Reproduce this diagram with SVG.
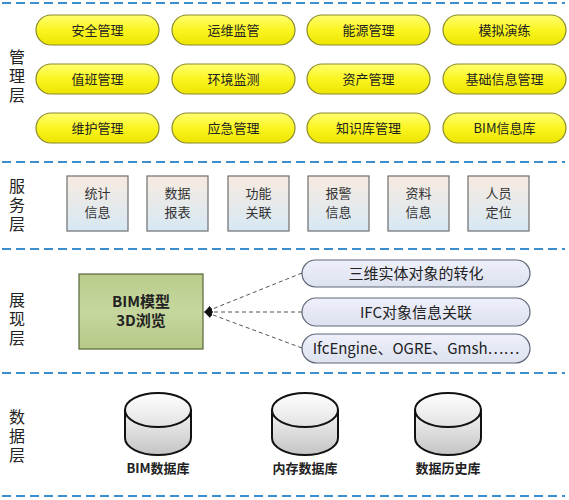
<svg xmlns="http://www.w3.org/2000/svg" width="569" height="500" viewBox="0 0 569 500">
<style>
text{font-family:"Noto Sans CJK SC","Noto Sans",sans-serif;}
.sep{stroke:#3b8fcf;stroke-width:2;stroke-dasharray:9 5;fill:none}
.layer{font-size:16px;fill:#222;text-anchor:middle;writing-mode:vertical-rl;letter-spacing:3px}
.pill rect{fill:url(#gy);stroke:#8a8a2a;stroke-width:1.2}
.pill text{font-size:13px;fill:#222;text-anchor:middle}
.svc rect{fill:url(#gs);stroke:#6e6e6e;stroke-width:1.2}
.svc text{font-size:13px;fill:#333;text-anchor:middle}
.rp rect{fill:url(#gb);stroke:#5e6676;stroke-width:1.2}
.rp text{font-size:15px;fill:#222;text-anchor:middle}
.cyl .body{fill:url(#gc);stroke:#111;stroke-width:2}
.cyl .top{fill:url(#gt);stroke:#111;stroke-width:2}
.cyl text{font-size:13px;font-weight:bold;fill:#222;text-anchor:middle}
.conn{stroke:#555;stroke-width:1;stroke-dasharray:4 3;fill:none}
</style>
<defs>
<linearGradient id="gy" x1="0" y1="0" x2="0" y2="1"><stop offset="0" stop-color="#ffff70"/><stop offset="0.5" stop-color="#fbf520"/><stop offset="1" stop-color="#ece400"/></linearGradient>
<linearGradient id="gs" x1="0" y1="0" x2="0" y2="1"><stop offset="0" stop-color="#f8ebe0"/><stop offset="1" stop-color="#d6e8f4"/></linearGradient>
<linearGradient id="gb" x1="0" y1="0" x2="0" y2="1"><stop offset="0" stop-color="#eef0fa"/><stop offset="1" stop-color="#dde2f0"/></linearGradient>
<linearGradient id="gg" x1="0" y1="0" x2="0" y2="1"><stop offset="0" stop-color="#b9cc8a"/><stop offset="0.5" stop-color="#c6d79e"/><stop offset="1" stop-color="#b6c986"/></linearGradient>
<linearGradient id="gc" x1="0" y1="0" x2="0" y2="1"><stop offset="0" stop-color="#f4f4f4"/><stop offset="1" stop-color="#c4c4c4"/></linearGradient>
<linearGradient id="gt" x1="0" y1="0" x2="0" y2="1"><stop offset="0" stop-color="#ffffff"/><stop offset="1" stop-color="#e2e2e2"/></linearGradient>
<marker id="arr" markerWidth="8" markerHeight="8" refX="7" refY="4" orient="auto" markerUnits="userSpaceOnUse"><path d="M0,0 L8,4 L0,8 Z" fill="#111"/></marker>
</defs>
<rect width="569" height="500" fill="#fff"/>

<g id="separators">
<line class="sep" x1="2" y1="3" x2="565" y2="3"/>
<line class="sep" x1="2" y1="162" x2="565" y2="162"/>
<line class="sep" x1="2" y1="249" x2="565" y2="249"/>
<line class="sep" x1="2" y1="373" x2="565" y2="373"/>
<line class="sep" x1="2" y1="496" x2="565" y2="496"/>
</g>

<g id="layer-labels">
<text class="layer" x="17" y="77">管理层</text>
<text class="layer" x="17" y="206">服务层</text>
<text class="layer" x="17" y="320">展现层</text>
<text class="layer" x="17" y="437">数据层</text>
</g>

<g id="mgmt-1" class="pill"><rect x="36" y="15" width="123" height="30" rx="15"/><text x="97.5" y="35">安全管理</text></g>
<g id="mgmt-2" class="pill"><rect x="172" y="15" width="123" height="30" rx="15"/><text x="233.5" y="35">运维监管</text></g>
<g id="mgmt-3" class="pill"><rect x="307" y="15" width="123" height="30" rx="15"/><text x="368.5" y="35">能源管理</text></g>
<g id="mgmt-4" class="pill"><rect x="443" y="15" width="123" height="30" rx="15"/><text x="504.5" y="35">模拟演练</text></g>
<g id="mgmt-5" class="pill"><rect x="36" y="64" width="123" height="30" rx="15"/><text x="97.5" y="84">值班管理</text></g>
<g id="mgmt-6" class="pill"><rect x="172" y="64" width="123" height="30" rx="15"/><text x="233.5" y="84">环境监测</text></g>
<g id="mgmt-7" class="pill"><rect x="307" y="64" width="123" height="30" rx="15"/><text x="368.5" y="84">资产管理</text></g>
<g id="mgmt-8" class="pill"><rect x="443" y="64" width="123" height="30" rx="15"/><text x="504.5" y="84">基础信息管理</text></g>
<g id="mgmt-9" class="pill"><rect x="36" y="113" width="123" height="30" rx="15"/><text x="97.5" y="133">维护管理</text></g>
<g id="mgmt-10" class="pill"><rect x="172" y="113" width="123" height="30" rx="15"/><text x="233.5" y="133">应急管理</text></g>
<g id="mgmt-11" class="pill"><rect x="307" y="113" width="123" height="30" rx="15"/><text x="368.5" y="133">知识库管理</text></g>
<g id="mgmt-12" class="pill"><rect x="443" y="113" width="123" height="30" rx="15"/><text x="504.5" y="133">BIM信息库</text></g>

<g id="svc-1" class="svc"><rect x="67" y="176" width="61" height="55"/><text x="97.5" y="198">统计<tspan x="97.5" dy="19">信息</tspan></text></g>
<g id="svc-2" class="svc"><rect x="147" y="176" width="61" height="55"/><text x="177.5" y="198">数据<tspan x="177.5" dy="19">报表</tspan></text></g>
<g id="svc-3" class="svc"><rect x="228" y="176" width="61" height="55"/><text x="258.5" y="198">功能<tspan x="258.5" dy="19">关联</tspan></text></g>
<g id="svc-4" class="svc"><rect x="308" y="176" width="61" height="55"/><text x="338.5" y="198">报警<tspan x="338.5" dy="19">信息</tspan></text></g>
<g id="svc-5" class="svc"><rect x="388" y="176" width="61" height="55"/><text x="418.5" y="198">资料<tspan x="418.5" dy="19">信息</tspan></text></g>
<g id="svc-6" class="svc"><rect x="468" y="176" width="61" height="55"/><text x="498.5" y="198">人员<tspan x="498.5" dy="19">定位</tspan></text></g>

<g id="bim-view">
<rect x="79" y="274" width="124" height="75" fill="url(#gg)" stroke="#56663a" stroke-width="1.2"/>
<text x="141" y="307" font-size="15" font-weight="bold" fill="#222" text-anchor="middle">BIM模型<tspan x="141" dy="19">3D浏览</tspan></text>
</g>

<g id="rp-1" class="rp"><rect x="302" y="260" width="228" height="27" rx="13.5"/><text x="416" y="279">三维实体对象的转化</text></g>
<g id="rp-2" class="rp"><rect x="302" y="298" width="228" height="28" rx="14"/><text x="416" y="317.5">IFC对象信息关联</text></g>
<g id="rp-3" class="rp"><rect x="302" y="334" width="228" height="29" rx="14.5"/><text x="416" y="354">IfcEngine、OGRE、Gmsh……</text></g>

<g id="connectors">
<line class="conn" x1="302" y1="273" x2="205" y2="312" marker-end="url(#arr)"/>
<line class="conn" x1="302" y1="312" x2="205" y2="312" marker-end="url(#arr)"/>
<line class="conn" x1="302" y1="348" x2="205" y2="312" marker-end="url(#arr)"/>
</g>

<g id="db-1" class="cyl">
<path class="body" d="M125,410 L125,438 A33,17 0 0 0 191,438 L191,410 Z"/>
<ellipse class="top" cx="158" cy="410" rx="33" ry="17"/>
<text x="158" y="473">BIM数据库</text>
</g>
<g id="db-2" class="cyl">
<path class="body" d="M272,410 L272,438 A33,17 0 0 0 338,438 L338,410 Z"/>
<ellipse class="top" cx="305" cy="410" rx="33" ry="17"/>
<text x="305" y="473">内存数据库</text>
</g>
<g id="db-3" class="cyl">
<path class="body" d="M415,410 L415,438 A33,17 0 0 0 481,438 L481,410 Z"/>
<ellipse class="top" cx="448" cy="410" rx="33" ry="17"/>
<text x="448" y="473">数据历史库</text>
</g>
</svg>
